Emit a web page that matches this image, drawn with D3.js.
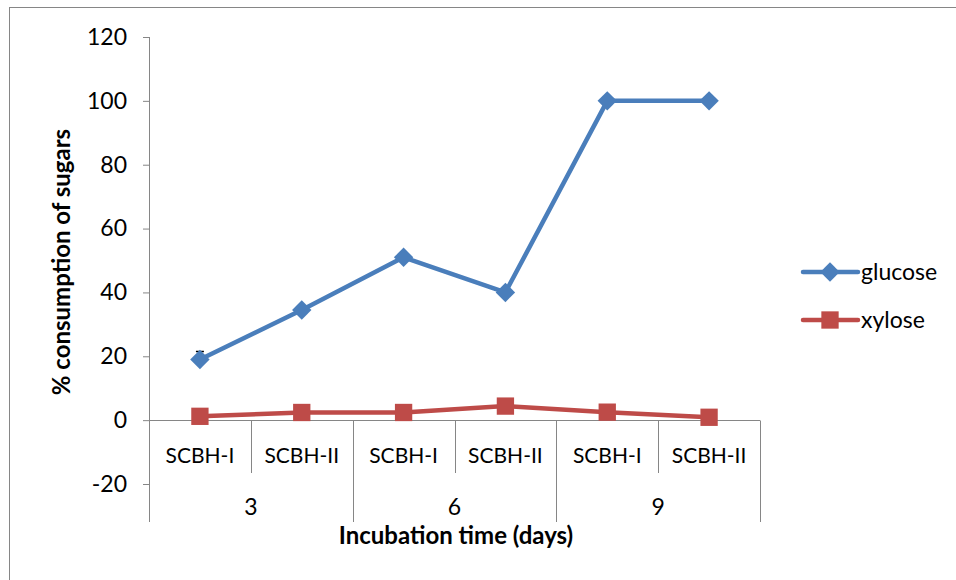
<!DOCTYPE html>
<html>
<head>
<meta charset="utf-8">
<script src="https://cdn.jsdelivr.net/npm/d3@7"></script>
<style>
  body { margin: 0; background: #fff; }
  svg { display: block; font-family: Lato, "Open Sans", sans-serif; }
</style>
</head>
<body>
<div id="chart"></div>
<script>
// data
var strains = ["SCBH-I", "SCBH-II", "SCBH-I", "SCBH-II", "SCBH-I", "SCBH-II"];
var days = ["3", "6", "9"];
var glucose = [19, 34.5, 51, 40, 100, 100];
var glucoseErr = [2.5, 0, 0, 0, 0, 0];
var xylose = [1.2, 2.4, 2.4, 4.4, 2.5, 0.9];
var yTicks = [-20, 0, 20, 40, 60, 80, 100, 120];

var width = 956, height = 580;
var svg = d3.select("#chart").append("svg")
  .attr("width", width)
  .attr("height", height);

// outer frame
svg.append("rect")
  .attr("x", 9.5).attr("y", 7.5)
  .attr("width", 960).attr("height", 600)
  .attr("fill", "none")
  .attr("stroke", "#868686");

var plotLeft = 149, plotRight = 760, plotTop = 37, plotBottom = 484;

var x = d3.scaleBand()
  .domain(d3.range(strains.length))
  .range([plotLeft, plotRight]);

var y = d3.scaleLinear()
  .domain([-20, 120])
  .range([plotBottom, plotTop]);

var grey = "#868686";

// y axis
var yAxis = svg.append("g")
  .attr("transform", "translate(" + plotLeft + ",0)")
  .call(d3.axisLeft(y).tickValues(yTicks).tickSize(6).tickPadding(16)
    .tickFormat(function(d) { return String(d); }));
yAxis.select(".domain").remove();
yAxis.selectAll(".tick line").attr("stroke", grey);
yAxis.selectAll("text")
  .attr("font-size", "23px")
  .attr("fill", "#000")
  .attr("font-family", "Lato, 'Open Sans', sans-serif");
svg.append("line")
  .attr("x1", plotLeft + 0.5).attr("x2", plotLeft + 0.5)
  .attr("y1", plotTop).attr("y2", 522)
  .attr("stroke", grey);

// x axis at zero
var y0 = Math.round(y(0)) + 0.5;
svg.append("line")
  .attr("x1", plotLeft).attr("x2", plotRight)
  .attr("y1", y0).attr("y2", y0)
  .attr("stroke", grey);

// category separators
var bw = x.bandwidth();
d3.range(1, strains.length + 1).forEach(function(i) {
  var xi = Math.round(plotLeft + i * bw) + 0.5;
  svg.append("line")
    .attr("x1", xi).attr("x2", xi)
    .attr("y1", y0).attr("y2", i % 2 === 0 ? 522 : 473)
    .attr("stroke", grey);
});

// strain labels
svg.selectAll(".strain")
  .data(strains)
  .enter().append("text")
  .attr("class", "strain")
  .attr("x", function(d, i) { return x(i) + bw / 2; })
  .attr("y", 463)
  .attr("text-anchor", "middle")
  .attr("font-size", "21px")
  .text(function(d) { return d; });

// day labels
svg.selectAll(".day")
  .data(days)
  .enter().append("text")
  .attr("class", "day")
  .attr("x", function(d, i) { return x(i * 2) + bw; })
  .attr("y", 515)
  .attr("text-anchor", "middle")
  .attr("font-size", "23px")
  .text(function(d) { return d; });

// axis titles
svg.append("text")
  .attr("x", 456).attr("y", 544)
  .attr("text-anchor", "middle")
  .attr("font-size", "24px")
  .attr("font-weight", "bold")
  .text("Incubation time (days)");

svg.append("text")
  .attr("transform", "translate(70,262) rotate(-90)")
  .attr("text-anchor", "middle")
  .attr("font-size", "24px")
  .attr("font-weight", "bold")
  .text("% consumption of sugars");

var line = d3.line()
  .x(function(d, i) { return x(i) + bw / 2; })
  .y(function(d) { return y(d); });

var series = [
  { name: "glucose", values: glucose, color: "#4A7EBB", shape: d3.symbolDiamond2, size: 240 },
  { name: "xylose", values: xylose, color: "#BE4B48", shape: d3.symbolSquare, size: 300 }
];

series.forEach(function(s) {
  svg.append("path")
    .datum(s.values)
    .attr("fill", "none")
    .attr("stroke", s.color)
    .attr("stroke-width", 4.5)
    .attr("stroke-linejoin", "round")
    .attr("d", line);
});

// error bars (glucose)
glucose.forEach(function(v, i) {
  if (!glucoseErr[i]) return;
  var cx = x(i) + bw / 2;
  var g = svg.append("g").attr("stroke", "#000").attr("stroke-width", 1.5);
  g.append("line").attr("x1", cx).attr("x2", cx)
    .attr("y1", y(v - glucoseErr[i])).attr("y2", y(v + glucoseErr[i]));
  g.append("line").attr("x1", cx - 4).attr("x2", cx + 4)
    .attr("y1", y(v + glucoseErr[i])).attr("y2", y(v + glucoseErr[i]));
});

series.forEach(function(s) {
  svg.selectAll(".m-" + s.name)
    .data(s.values)
    .enter().append("path")
    .attr("class", "m-" + s.name)
    .attr("transform", function(d, i) {
      return "translate(" + (x(i) + bw / 2) + "," + y(d) + ")";
    })
    .attr("d", d3.symbol().type(s.shape).size(s.size))
    .attr("fill", s.color);
});

// legend
series.forEach(function(s, k) {
  var ly = 272 + k * 48;
  svg.append("line")
    .attr("x1", 803).attr("x2", 858)
    .attr("y1", ly).attr("y2", ly)
    .attr("stroke", s.color)
    .attr("stroke-width", 4.5)
    .attr("stroke-linecap", "round");
  svg.append("path")
    .attr("transform", "translate(830," + ly + ")")
    .attr("d", d3.symbol().type(s.shape).size(s.size))
    .attr("fill", s.color);
  svg.append("text")
    .attr("x", 861).attr("y", ly + 8)
    .attr("font-size", "23px")
    .text(s.name);
});
</script>
</body>
</html>
